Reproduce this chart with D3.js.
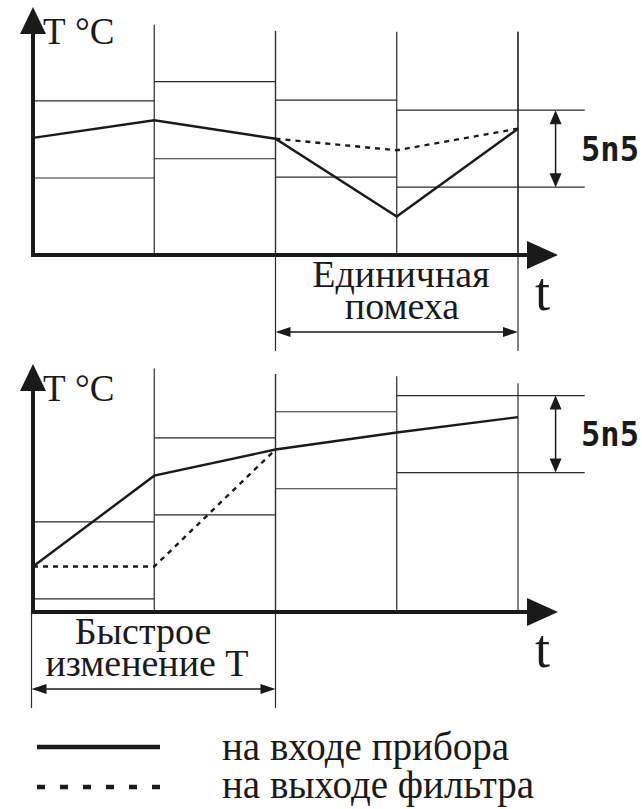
<!DOCTYPE html>
<html>
<head>
<meta charset="utf-8">
<script src="https://cdn.jsdelivr.net/npm/d3@7"></script>
<style>
  body { margin: 0; background: #fff; }
  svg { display: block; }
</style>
</head>
<body>
<div id="chart"></div>
<script>
// time marks (sampling moments)
const times = [0, 1, 2, 3, 4];

// upper panel: single spike ("Единичная помеха")
const inputA = [15.2, 17.5, 15.1, 5.0, 16.4];
const filterTimesA = [2, 3, 4];
const filterA = [15.1, 13.6, 16.4];
const bandCenterA = [15.0, 17.5, 15.1, 13.8];
const gridTopA = [29.9, 29.1, 29.0, 29.0];

// lower panel: fast change ("Быстрое изменение Т")
const inputB = [5.9, 17.7, 21.1, 23.3, 25.3];
const filterTimesB = [0, 1, 2];
const filterB = [5.9, 5.9, 21.1];
const bandCenterB = [6.7, 17.6, 21.0, 23.1];
const gridTopB = [31.6, 30.9, 30.6, 29.7];

const sns = 10;          // filter band width
const bandEnd = 4.55;    // last band runs past the axis end
const snsAt = 4.31;      // where the SnS dimension arrow sits

const width = 642, height = 809;
const ink = '#1a1a1a';
const serif = '"Liberation Serif", "Times New Roman", "DejaVu Serif", serif';

const svg = d3.select('#chart').append('svg')
  .attr('width', width)
  .attr('height', height);

const x = d3.scaleLinear().domain([0, 4]).range([33, 518]);
const y = d3.scaleLinear().domain([0, 32.2]).range([248, 0]);

function label(g, px, py, s, size, anchor) {
  return g.append('text')
    .attr('x', px).attr('y', py)
    .attr('font-family', serif)
    .attr('font-size', size)
    .attr('fill', ink)
    .attr('text-anchor', anchor || 'start')
    .text(s);
}

function arrowHead(g, tipX, tipY, dir, len, half) {
  // dir: 'up', 'right', 'left', 'down'
  let pts;
  if (dir === 'up') pts = [[tipX, tipY], [tipX - half, tipY + len], [tipX + half, tipY + len]];
  if (dir === 'down') pts = [[tipX, tipY], [tipX - half, tipY - len], [tipX + half, tipY - len]];
  if (dir === 'right') pts = [[tipX, tipY], [tipX - len, tipY - half], [tipX - len, tipY + half]];
  if (dir === 'left') pts = [[tipX, tipY], [tipX + len, tipY - half], [tipX + len, tipY + half]];
  g.append('path').attr('d', 'M' + pts.join('L') + 'Z').attr('fill', ink);
}

function panel(offsetY, input, fTimes, filter, bandCenter, gridTop, span, labelLines, labelX) {
  const g = svg.append('g').attr('transform', 'translate(0,' + offsetY + ')');
  const y0 = y(0);

  // vertical time lines
  g.selectAll('.vline')
    .data(gridTop)
    .enter().append('line')
    .attr('x1', (d, i) => x(times[i + 1]))
    .attr('x2', (d, i) => x(times[i + 1]))
    .attr('y1', d => y(d))
    .attr('y2', y0)
    .attr('stroke', '#2a2a2a')
    .attr('stroke-width', 1.2);

  // filter bands: two horizontal lines per interval
  bandCenter.forEach((c, i) => {
    const xa = x(times[i]);
    const xb = i === bandCenter.length - 1 ? x(bandEnd) : x(times[i + 1]);
    [c + sns / 2, c - sns / 2].forEach(v => {
      g.append('line')
        .attr('x1', xa).attr('x2', xb)
        .attr('y1', y(v)).attr('y2', y(v))
        .attr('stroke', '#2a2a2a')
        .attr('stroke-width', 1.2);
    });
  });

  // SnS dimension arrow
  const last = bandCenter[bandCenter.length - 1];
  const sTop = y(last + sns / 2), sBot = y(last - sns / 2);
  g.append('line')
    .attr('x1', x(snsAt)).attr('x2', x(snsAt))
    .attr('y1', sTop + 10).attr('y2', sBot - 10)
    .attr('stroke', ink).attr('stroke-width', 1.5);
  arrowHead(g, x(snsAt), sTop, 'up', 14, 6);
  arrowHead(g, x(snsAt), sBot, 'down', 14, 6);
  g.append('text')
    .attr('x', 581)
    .attr('y', (sTop + sBot) / 2 + 12)
    .attr('textLength', 58)
    .attr('lengthAdjust', 'spacingAndGlyphs')
    .attr('font-family', '"DejaVu Sans Mono", monospace')
    .attr('font-weight', 'bold')
    .attr('font-size', 34)
    .attr('fill', ink)
    .text('5n5');

  // annotation span below the axis
  const lowY = y0 + 96;
  span.forEach(t => {
    const lx = x(t) - (t === 0 ? 1.5 : 0);
    g.append('line')
      .attr('x1', lx).attr('x2', lx)
      .attr('y1', t === 0 ? y0 : y(gridTop[t - 1]))
      .attr('y2', lowY)
      .attr('stroke', '#2a2a2a')
      .attr('stroke-width', 1.2);
  });
  const ax = x(span[0]) - (span[0] === 0 ? 1.5 : 0), bx = x(span[1]);
  g.append('line')
    .attr('x1', ax + 12).attr('x2', bx - 12)
    .attr('y1', lowY - 19).attr('y2', lowY - 19)
    .attr('stroke', ink).attr('stroke-width', 1.5);
  arrowHead(g, ax, lowY - 19, 'left', 15, 5);
  arrowHead(g, bx, lowY - 19, 'right', 15, 5);
  labelLines.forEach((s, i) => {
    label(g, labelX[i], y0 + 32 + i * 32, s, 38, 'middle');
  });

  // axes
  g.append('line')
    .attr('x1', x(0)).attr('x2', x(0))
    .attr('y1', y0 + 2).attr('y2', y(32.2) + 20)
    .attr('stroke', ink).attr('stroke-width', 4);
  arrowHead(g, x(0), y(32.2), 'up', 27, 13);
  g.append('line')
    .attr('x1', x(0) - 2).attr('x2', x(4.33) - 20)
    .attr('y1', y0).attr('y2', y0)
    .attr('stroke', ink).attr('stroke-width', 4);
  arrowHead(g, x(4.33), y0, 'right', 31, 14);

  label(g, 43, y(32.2) + 37, 'T', 37);
  label(g, 75, y(32.2) + 37, '°C', 37);
  label(g, 535, y0 + 55, 't', 54);

  // signal lines
  const line = d3.line().x(d => x(d[0])).y(d => y(d[1]));
  g.append('path')
    .datum(fTimes.map((t, i) => [t, filter[i]]))
    .attr('d', line)
    .attr('fill', 'none')
    .attr('stroke', ink)
    .attr('stroke-width', 2.4)
    .attr('stroke-dasharray', '5,5');
  g.append('path')
    .datum(times.map((t, i) => [t, input[i]]))
    .attr('d', line)
    .attr('fill', 'none')
    .attr('stroke', ink)
    .attr('stroke-width', 2.4);
}

panel(7, inputA, filterTimesA, filterA, bandCenterA, gridTopA, [2, 4], ['Единичная', 'помеха'], [401, 402]);
panel(364, inputB, filterTimesB, filterB, bandCenterB, gridTopB, [0, 2], ['Быстрое', 'изменение Т'], [143, 147]);

// legend
const legend = svg.append('g');
legend.append('line')
  .attr('x1', 37).attr('x2', 160).attr('y1', 747).attr('y2', 747)
  .attr('stroke', ink).attr('stroke-width', 4.5);
legend.append('line')
  .attr('x1', 37).attr('x2', 160).attr('y1', 787).attr('y2', 787)
  .attr('stroke', ink).attr('stroke-width', 4.5)
  .attr('stroke-dasharray', '8,15');
label(legend, 222, 760, 'на входе прибора', 39);
label(legend, 222, 798, 'на выходе фильтра', 39);
</script>
</body>
</html>
